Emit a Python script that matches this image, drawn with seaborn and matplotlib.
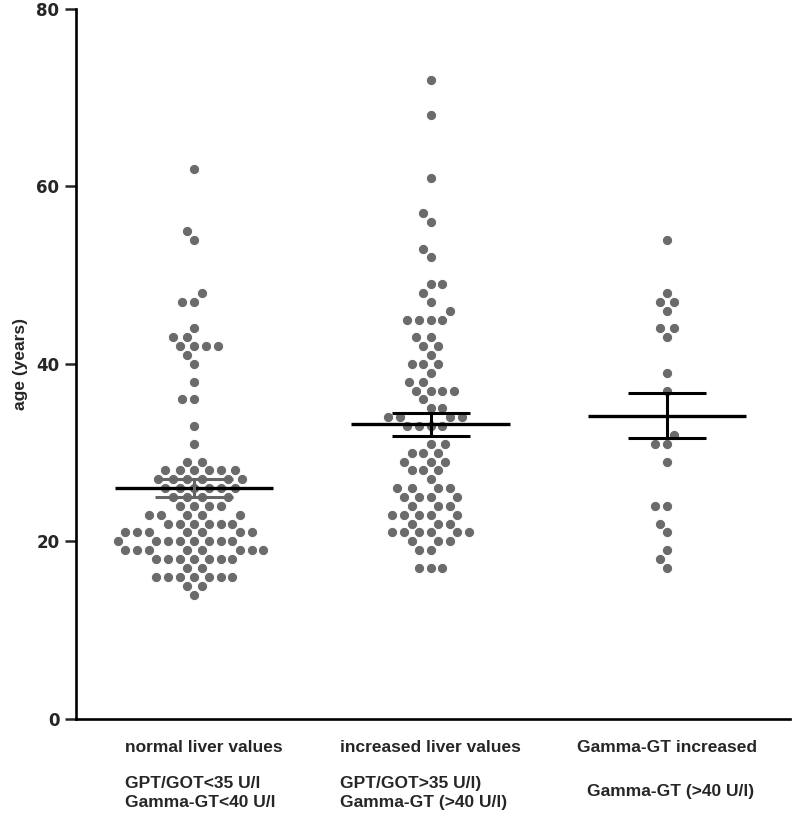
import numpy as np
import pandas as pd
import matplotlib
matplotlib.use("Agg")
import matplotlib.pyplot as plt
import seaborn as sns

# ages (one value per dot)
ages_normal = ([62, 55, 54, 48, 47, 47, 44, 43, 43, 42, 42, 42, 42, 41, 40, 38, 36, 36, 33, 31, 29, 29]
               + [28] * 6 + [27] * 6 + [26] * 6 + [25] * 4 + [24] * 4 + [23] * 5 + [22] * 6
               + [21] * 7 + [20] * 8 + [19] * 8 + [18] * 7 + [17] * 2 + [16] * 7 + [15] * 2 + [14])
ages_increased = ([72, 68, 61, 57, 56, 53, 52, 49, 49, 48, 47, 46] + [45] * 4 + [43] * 2 + [42] * 2
                  + [41] + [40] * 3 + [39] + [38] * 2 + [37] * 4 + [36] + [35] * 2 + [34] * 4
                  + [33] * 4 + [31] * 2 + [30] * 3 + [29] * 3 + [28] * 3 + [27] + [26] * 4 + [25] * 4
                  + [24] * 3 + [23] * 5 + [22] * 3 + [21] * 6 + [20] * 3 + [19] * 2 + [17] * 3)
ages_ggt = [54, 48, 47, 47, 46, 44, 44, 43, 39, 37, 32, 31, 31, 29, 24, 24, 22, 21, 19, 18, 17]

groups = ["normal liver values", "increased liver values", "Gamma-GT increased"]
group_notes = ["GPT/GOT<35 U/l\nGamma-GT<40 U/l", "GPT/GOT>35 U/l)\nGamma-GT (>40 U/l)", "Gamma-GT (>40 U/l)"]
bar_colors = ["#666666", "black", "black"]
yticks = [0, 20, 40, 60, 80]

df = pd.DataFrame({
    "group": [groups[0]] * len(ages_normal) + [groups[1]] * len(ages_increased) + [groups[2]] * len(ages_ggt),
    "age": ages_normal + ages_increased + ages_ggt,
})

sns.set_style("white")
plt.rcParams["font.family"] = ["Liberation Sans", "DejaVu Sans"]

fig = plt.figure(figsize=(7.93, 8.15), dpi=100)
ax = fig.add_axes([0.096, 0.118, 0.9, 0.871])

sns.swarmplot(data=df, x="group", y="age", order=groups, color="#6b6b6b",
              size=7.4, linewidth=0.7, edgecolor="white", ax=ax, zorder=2)

# mean line + SEM bars
stats = df.groupby("group", sort=False)["age"].agg(["mean", "sem"]).reindex(groups)
for i, g in enumerate(groups):
    m, s = stats.loc[g, "mean"], stats.loc[g, "sem"]
    ax.hlines(m, i - 0.335, i + 0.335, color="black", lw=2.4, zorder=5)
    ax.vlines(i, m - s, m + s, color=bar_colors[i], lw=2.2, zorder=5)
    ax.hlines([m - s, m + s], i - 0.165, i + 0.165, color=bar_colors[i], lw=2.2, zorder=5)

ax.set_xlim(-0.5, 2.52)
ax.set_ylim(0, 80)
ax.set_yticks(yticks)
ax.set_yticklabels([str(t) for t in yticks], fontfamily="DejaVu Sans", fontweight="bold", fontsize=12)
ax.set_ylabel("age (years)", fontsize=12.5, fontweight="bold")
ax.yaxis.set_label_coords(-0.067, 0.5)
ax.set_xlabel("")
# first label sits a bit right of its swarm in the original
ax.set_xticks([0.04, 1, 2])
ax.set_xticklabels(groups, fontsize=12.5, fontweight="bold")
ax.tick_params(axis="x", length=0, pad=15)
ax.tick_params(axis="y", length=8, width=1.8, direction="out", pad=4, left=True)

for side in ["top", "right"]:
    ax.spines[side].set_visible(False)
for side in ["left", "bottom"]:
    ax.spines[side].set_linewidth(1.9)
    ax.spines[side].set_color("black")

# second block of category text, left-aligned under each label
fig.canvas.draw()
inv = ax.transData.inverted()
for i, (note, lab) in enumerate(zip(group_notes, ax.get_xticklabels())):
    if "\n" in note:
        left_px = lab.get_window_extent().x0
        x_left = inv.transform((left_px, 0))[0]
        ax.text(x_left, -0.1042, note, transform=ax.get_xaxis_transform(),
                ha="left", va="center", fontsize=12.5, fontweight="bold", linespacing=1.35)
    else:
        ax.text(i + 0.015, -0.1028, note, transform=ax.get_xaxis_transform(),
                ha="center", va="center", fontsize=12.5, fontweight="bold")

fig.savefig("out.png", dpi=100)
